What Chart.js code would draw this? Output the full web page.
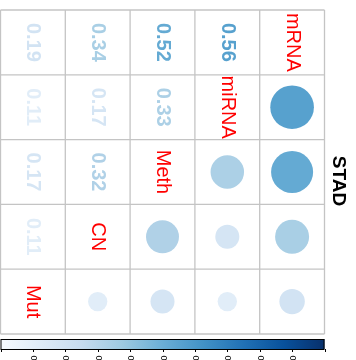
<!DOCTYPE html>
<html>
<head>
<meta charset="utf-8">
<script src="https://cdn.jsdelivr.net/npm/chart.js@4/dist/chart.umd.min.js"></script>
<style>
  html, body { margin: 0; padding: 0; background: #ffffff; }
  canvas { display: block; }
</style>
</head>
<body>
<canvas id="corrChart" width="356" height="360"></canvas>
<script>
const variables = ["mRNA", "miRNA", "Meth", "CN", "Mut"];
const corrMRNA = [1.0, 0.56, 0.52, 0.34, 0.19];
const corrMiRNA = [0.56, 1.0, 0.33, 0.17, 0.11];
const corrMeth = [0.52, 0.33, 1.0, 0.32, 0.17];
const corrCN = [0.34, 0.17, 0.32, 1.0, 0.11];
const corrMut = [0.19, 0.11, 0.17, 0.11, 1.0];
const colorbarTicks = [0, 0.1, 0.2, 0.3, 0.4, 0.5, 0.6, 0.7, 0.8, 0.9, 1];
const colorbarLabels = ["", "0.1", "0.2", "0.3", "0.4", "0.5", "0.6", "0.7", "0.8", "0.9", ""];
const bluesStops = ["#f7fbff", "#deebf7", "#c6dbef", "#9ecae1", "#6baed6", "#4292c6", "#2171b5", "#08519c", "#08306b"];
const title = "STAD";

const corrRows = [corrMRNA, corrMiRNA, corrMeth, corrCN, corrMut];
const n = variables.length;
const FONT = "'Liberation Sans', Arial, sans-serif";

function hexToRgb(h) {
  return [1, 3, 5].map((i) => parseInt(h.slice(i, i + 2), 16));
}

function blues(v) {
  const t = Math.max(0, Math.min(1, v)) * (bluesStops.length - 1);
  const i = Math.min(Math.floor(t), bluesStops.length - 2);
  const f = t - i;
  const a = hexToRgb(bluesStops[i]);
  const b = hexToRgb(bluesStops[i + 1]);
  const c = a.map((x, k) => Math.round(x + (b[k] - x) * f));
  return `rgb(${c[0]},${c[1]},${c[2]})`;
}

// lower-right triangle of the grid holds the circles
const circles = [];
for (let r = 0; r < n; r++) {
  for (let c = 0; c < n; c++) {
    if (r + c > n - 1) {
      circles.push({ x: c + 0.5, y: r + 0.5, v: corrRows[r][n - 1 - c] });
    }
  }
}

function drawRotated(ctx, text, x, y, font, color) {
  ctx.save();
  ctx.translate(x, y);
  ctx.rotate(Math.PI / 2);
  ctx.font = font;
  ctx.fillStyle = color;
  ctx.textAlign = "center";
  ctx.textBaseline = "middle";
  ctx.fillText(text, 0, 0);
  ctx.restore();
}

const gridPlugin = {
  id: "corrGrid",
  beforeDatasetsDraw(chart) {
    const { ctx, scales } = chart;
    const xs = scales.x;
    const ys = scales.y;
    ctx.save();
    ctx.strokeStyle = "#c4c4c4";
    ctx.lineWidth = 1.3;
    for (let i = 0; i <= n; i++) {
      const px = xs.getPixelForValue(i);
      const py = ys.getPixelForValue(i);
      ctx.beginPath();
      ctx.moveTo(px, ys.getPixelForValue(0));
      ctx.lineTo(px, ys.getPixelForValue(n));
      ctx.stroke();
      ctx.beginPath();
      ctx.moveTo(xs.getPixelForValue(0), py);
      ctx.lineTo(xs.getPixelForValue(n), py);
      ctx.stroke();
    }
    ctx.restore();
  },
  afterDatasetsDraw(chart) {
    const { ctx, scales } = chart;
    const xs = scales.x;
    const ys = scales.y;
    for (let r = 0; r < n; r++) {
      for (let c = 0; c < n; c++) {
        const cx = xs.getPixelForValue(c + 0.5);
        const cy = ys.getPixelForValue(r + 0.5);
        if (r + c < n - 1) {
          const v = corrRows[r][n - 1 - c];
          drawRotated(ctx, v.toFixed(2), cx, cy, `bold 20px ${FONT}`, blues(v));
        } else if (r + c === n - 1) {
          drawRotated(ctx, variables[r], cx, cy, `20px ${FONT}`, "#ff0000");
        }
      }
    }

    // colour bar under the grid
    const cb = scales.cb;
    const x0 = cb.getPixelForValue(0);
    const x1 = cb.getPixelForValue(1);
    const top = ys.getPixelForValue(n) + 5;
    const h = 10;
    const grad = ctx.createLinearGradient(x0, 0, x1, 0);
    bluesStops.forEach((col, i) => grad.addColorStop(i / (bluesStops.length - 1), col));
    ctx.save();
    ctx.fillStyle = grad;
    ctx.fillRect(x0, top, x1 - x0, h);
    ctx.strokeStyle = "#000000";
    ctx.lineWidth = 1;
    ctx.strokeRect(x0 + 0.5, top + 0.5, x1 - x0 - 1, h);
    colorbarTicks.forEach((t, i) => {
      const px = Math.round(cb.getPixelForValue(t)) + 0.5;
      ctx.beginPath();
      ctx.moveTo(px, top + h);
      ctx.lineTo(px, top + h + 3);
      ctx.stroke();
      if (colorbarLabels[i]) {
        ctx.save();
        ctx.translate(px, top + h + 6.5);
        ctx.rotate(Math.PI / 2);
        ctx.font = `9px ${FONT}`;
        ctx.fillStyle = "#000000";
        ctx.textAlign = "left";
        ctx.textBaseline = "middle";
        ctx.fillText(colorbarLabels[i], 0, 0);
        ctx.restore();
      }
    });
    ctx.restore();

    const midY = (ys.getPixelForValue(0) + ys.getPixelForValue(n)) / 2 + 9;
    drawRotated(ctx, title, xs.getPixelForValue(n) + 14, midY, `bold 19px ${FONT}`, "#000000");
  },
};

function circleRadius(ctx) {
  const xs = ctx.chart.scales.x;
  const p = circles[ctx.dataIndex];
  if (!xs || !p) return 0;
  const half = Math.abs(xs.getPixelForValue(1) - xs.getPixelForValue(0)) / 2;
  return 0.9 * half * Math.sqrt(Math.abs(p.v));
}

function circleColor(ctx) {
  const p = circles[ctx.dataIndex];
  return p ? blues(p.v) : "rgba(0,0,0,0)";
}

new Chart(document.getElementById("corrChart"), {
  type: "scatter",
  data: {
    datasets: [
      {
        data: circles,
        xAxisID: "x",
        yAxisID: "y",
        pointRadius: circleRadius,
        pointBackgroundColor: circleColor,
        pointBorderWidth: 0,
        pointBorderColor: "rgba(0,0,0,0)",
        clip: false,
      },
    ],
  },
  options: {
    responsive: false,
    animation: false,
    events: [],
    layout: { padding: { left: 0.5, top: 10, right: 31.5, bottom: 26 } },
    plugins: { legend: { display: false }, tooltip: { enabled: false } },
    scales: {
      x: { type: "linear", min: 0, max: n, display: false },
      y: { type: "linear", min: 0, max: n, reverse: true, display: false },
      cb: { type: "linear", axis: "x", min: 0, max: 1, display: false },
    },
  },
  plugins: [gridPlugin],
});
</script>
</body>
</html>
